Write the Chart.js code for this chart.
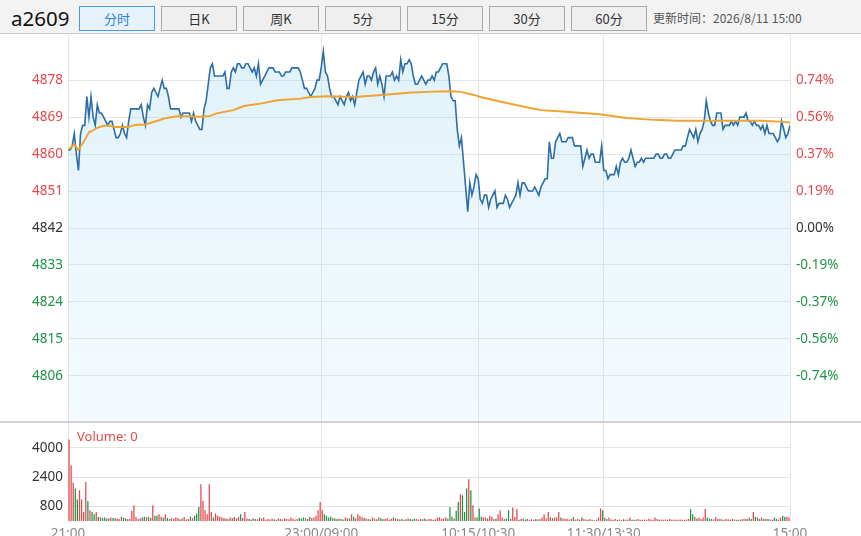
<!DOCTYPE html>
<html><head><meta charset="utf-8">
<script src="https://cdn.jsdelivr.net/npm/chart.js@4.4.1/dist/chart.umd.min.js"></script>
<style>
html,body{margin:0;padding:0;width:861px;height:536px;overflow:hidden;background:#fff;font-family:'Noto Sans','Noto Sans CJK SC',sans-serif;}
#bar{position:absolute;left:0;top:0;width:861px;height:33px;background:#f3f3f3;border-bottom:1px solid #c9c9c9;}
#sym{position:absolute;left:11px;top:4px;font-size:20.5px;line-height:28px;color:#111;}
.btn{position:absolute;top:6px;height:23px;width:74px;border:1px solid #a9a9a9;background:#efefef;font-size:13px;line-height:23px;text-align:center;color:#333;font-family:'Noto Sans CJK SC','Noto Sans',sans-serif;}
.btn.on{background:#e6f2fc;border-color:#4b9be0;color:#2b7fd4}
#upd{position:absolute;left:653px;top:9px;font-size:12px;line-height:17px;color:#555;font-family:'Noto Sans CJK SC','Noto Sans',sans-serif;}
#sep{position:absolute;left:0;top:421px;width:861px;height:2px;background:#d2d2d2}
#vol{position:absolute;left:77px;top:428px;font-size:13px;line-height:16px;color:#e5484d}
canvas{position:absolute;left:0}
</style></head>
<body>
<div id="bar">
  <div id="sym">a2609</div>
  <div class="btn on" style="left:79px">分时</div>
  <div class="btn" style="left:161px">日K</div>
  <div class="btn" style="left:243px">周K</div>
  <div class="btn" style="left:325px">5分</div>
  <div class="btn" style="left:407px">15分</div>
  <div class="btn" style="left:489px">30分</div>
  <div class="btn" style="left:571px">60分</div>
  <div id="upd">更新时间：2026/8/11 15:00</div>
</div>
<canvas id="pc" width="861" height="386" style="top:35px"></canvas>
<canvas id="vc" width="861" height="130" style="top:422px"></canvas>
<div id="sep"></div>
<div id="vol">Volume: 0</div>
<script>
const basePrice = 4842;
const priceMin = 4795;
const priceMax = 4889;
const priceTicks = [4806, 4815, 4824, 4833, 4842, 4851, 4860, 4869, 4878];
const volumeMax = 5400;
const volumeTicks = [800, 2400, 4000];
const sessionTicks = [0, 121, 196, 256, 345];
const sessionLabels = ['21:00', '23:00/09:00', '10:15/10:30', '11:30/13:30', '15:00'];

const priceValues = [
  4861,4861,4862,4865,4860,4856,4865,4867,4867,4874,4869,4874,4869,4867,4872,
  4870,4870,4869,4868,4867,4868,4868,4866,4864,4864,4865,4867,4865,4864,4868,
  4871,4871,4871,4871,4871,4872,4869,4867,4872,4871,4875,4876,4875,4874,4876,
  4878,4876,4876,4874,4871,4871,4871,4871,4871,4869,4870,4870,4870,4870,4868,
  4870,4868,4867,4866,4866,4871,4873,4877,4881,4882,4879,4879,4879,4879,4879,
  4880,4876,4876,4880,4881,4880,4882,4882,4881,4881,4882,4882,4881,4880,4881,
  4879,4882,4877,4878,4879,4880,4881,4881,4881,4880,4880,4880,4879,4879,4880,
  4880,4880,4881,4881,4881,4881,4880,4878,4876,4876,4875,4874,4875,4876,4878,
  4878,4881,4885,4880,4879,4876,4874,4874,4873,4872,4874,4873,4872,4874,4875,
  4873,4874,4872,4875,4878,4879,4880,4877,4879,4879,4878,4880,4881,4877,4879,
  4877,4874,4879,4879,4879,4880,4878,4879,4878,4883,4880,4882,4882,4883,4882,
  4879,4877,4877,4878,4879,4878,4877,4878,4878,4879,4878,4880,4880,4881,4882,
  4882,4882,4879,4874,4873,4873,4866,4862,4864,4858,4852,4846,4853,4850,4852,
  4855,4854,4849,4848,4850,4850,4847,4849,4850,4851,4847,4848,4848,4848,4850,
  4849,4847,4848,4849,4850,4853,4850,4853,4853,4852,4851,4851,4851,4852,4851,
  4850,4852,4853,4854,4854,4863,4859,4859,4863,4864,4865,4863,4863,4863,4864,
  4864,4864,4862,4862,4862,4862,4857,4859,4861,4859,4860,4860,4858,4858,4858,
  4862,4856,4856,4854,4855,4855,4855,4857,4855,4858,4859,4858,4858,4859,4861,
  4859,4857,4858,4858,4859,4858,4859,4859,4859,4859,4859,4860,4860,4859,4859,
  4860,4860,4859,4859,4860,4861,4861,4861,4861,4862,4862,4864,4866,4865,4864,
  4866,4863,4865,4866,4868,4873,4870,4868,4867,4867,4870,4870,4870,4866,4867,
  4867,4867,4868,4867,4868,4867,4869,4869,4869,4870,4868,4868,4867,4868,4867,
  4867,4866,4867,4865,4867,4865,4865,4865,4864,4863,4864,4868,4866,4864,4865,
  4867
];

const avgMinutes = [0,3,5,8,10,12,14,17,20,23,26,29,32,37,42,47,52,56,63,68,71,79,84,92,100,111,116,124,137,153,164,175,182,187,194,197,209,222,226,238,254,267,278,283,291,307,331,340,345];
const avgValues = [4861.0,4862.4,4861.0,4863.4,4865.3,4865.8,4866.4,4866.9,4866.9,4866.6,4866.6,4866.6,4867.1,4867.2,4868.0,4868.8,4869.2,4869.2,4869.1,4869.3,4869.9,4870.7,4871.7,4872.3,4873.1,4873.5,4873.9,4874.1,4873.9,4874.5,4875.0,4875.2,4875.3,4875.2,4874.4,4873.9,4872.5,4871.1,4870.7,4870.3,4869.7,4868.8,4868.4,4868.3,4868.1,4868.1,4868.1,4867.9,4867.7];

const volumeValues = [
  4450,3050,2090,1780,1180,1690,1180,510,2140,1100,600,510,380,500,240,
  220,180,200,150,160,200,180,170,150,130,250,190,160,120,140,
  580,870,250,120,150,200,250,220,250,180,870,300,320,380,250,
  200,380,180,120,160,140,200,180,110,150,240,100,130,250,180,
  300,420,780,2020,1100,600,380,2020,510,200,420,300,250,200,180,
  150,120,200,180,230,160,250,380,180,500,150,120,100,160,130,
  110,200,150,200,90,120,100,140,110,90,150,120,100,160,130,
  110,200,140,100,120,180,150,200,160,120,240,180,200,300,600,
  1050,600,380,300,200,250,180,160,130,150,120,100,200,170,150,
  380,250,150,380,300,220,180,150,120,100,200,140,110,220,160,
  130,120,180,100,140,200,160,120,100,130,90,110,150,120,100,
  140,120,90,130,110,150,100,120,130,90,110,200,220,120,150,
  220,140,780,250,150,580,1050,1470,1420,510,1780,2290,1690,870,220,
  200,690,250,200,200,150,300,240,120,140,380,600,200,120,150,
  600,130,750,240,650,90,120,150,100,130,90,110,80,120,100,
  120,200,380,150,510,220,180,200,200,510,200,150,145,120,100,
  130,235,100,120,90,200,145,100,80,120,90,55,100,200,690,
  600,200,130,200,100,90,120,80,100,90,110,80,100,200,90,
  80,100,120,90,80,100,90,145,100,80,200,120,90,100,90,
  100,80,120,90,100,80,90,100,90,90,100,120,650,380,235,
  150,200,120,200,670,200,145,120,100,235,120,145,100,90,120,
  100,90,120,100,90,80,100,120,145,120,200,130,510,235,200,
  120,200,130,145,120,100,90,200,120,100,200,300,235,250,200
];

const RED = '#e5484d', GREEN = '#1f9447', GRID = '#e4e4e4';
Chart.defaults.font.family = "'Noto Sans','Noto Sans CJK SC',sans-serif";
Chart.defaults.font.size = 13.5;

function fixV(w) { return s => { s.width = w; s.paddingTop = 0; s.paddingBottom = 0; }; }
function fixH(h) { return s => { s.height = h; s.paddingLeft = 0; s.paddingRight = 0; }; }
function setTicks(arr) { return s => { s.ticks = arr.map(v => ({ value: v })); }; }
function tickColor(c) { const v = c.tick.value; return v > basePrice ? RED : (v < basePrice ? GREEN : '#333'); }

new Chart(document.getElementById('pc'), {
  type: 'line',
  data: { datasets: [
    { data: avgMinutes.map((m, k) => ({ x: m, y: avgValues[k] })), borderColor: '#f0a331', borderWidth: 1.9, pointRadius: 0, fill: false, order: 0 },
    { data: priceValues.map((v, i) => ({ x: i, y: v })), borderColor: '#2c6ea5', borderWidth: 1.6, pointRadius: 0, fill: 'start', order: 1,
      backgroundColor: (c) => {
        const { ctx, chartArea } = c.chart;
        if (!chartArea) return 'rgba(170,220,245,0.25)';
        const g = ctx.createLinearGradient(0, chartArea.top, 0, chartArea.bottom);
        g.addColorStop(0, 'rgba(160,215,240,0.34)');
        g.addColorStop(1, 'rgba(190,230,248,0.16)');
        return g;
      } }
  ] },
  options: {
    animation: false, responsive: false, maintainAspectRatio: false,
    layout: { padding: 0 },
    plugins: { legend: { display: false }, tooltip: { enabled: false } },
    scales: {
      x: { type: 'linear', min: 0, max: 345, afterBuildTicks: setTicks(sessionTicks),
           ticks: { display: false }, grid: { color: GRID, drawTicks: false }, border: { display: false }, afterFit: fixH(0) },
      y: { type: 'linear', position: 'left', min: priceMin, max: priceMax, afterBuildTicks: setTicks(priceTicks),
           ticks: { color: tickColor, padding: 5, callback: v => String(v) },
           grid: { color: GRID, drawTicks: false }, border: { display: false }, afterFit: fixV(68) },
      y2: { type: 'linear', position: 'right', min: priceMin, max: priceMax, afterBuildTicks: setTicks(priceTicks),
           ticks: { color: tickColor, padding: 6, callback: v => ((v - basePrice) / basePrice * 100).toFixed(2) + '%' },
           grid: { display: false, drawTicks: false }, border: { display: false }, afterFit: fixV(71) }
    }
  }
});

new Chart(document.getElementById('vc'), {
  type: 'bar',
  data: { datasets: [{
    data: volumeValues.map((v, k) => ({ x: k + 0.5, y: v })),
    backgroundColor: volumeValues.map((v, k) => priceValues[k + 1] >= priceValues[k] ? RED : GREEN),
    barPercentage: 0.6, categoryPercentage: 1, borderWidth: 0
  }] },
  options: {
    animation: false, responsive: false, maintainAspectRatio: false,
    layout: { padding: { right: 71 } },
    plugins: { legend: { display: false }, tooltip: { enabled: false } },
    scales: {
      x: { type: 'linear', min: 0, max: 345, offset: false, afterBuildTicks: setTicks(sessionTicks),
           ticks: { color: '#8a8a8a', autoSkip: false, maxRotation: 0, padding: 5, callback: (v, i) => sessionLabels[i] },
           grid: { color: GRID, drawTicks: false, offset: false }, border: { display: false }, afterFit: fixH(30.7) },
      y: { type: 'linear', position: 'left', min: 0, max: volumeMax, afterBuildTicks: setTicks(volumeTicks),
           ticks: { color: '#333', padding: 5, callback: v => String(v) },
           grid: { color: GRID, drawTicks: false }, border: { display: false }, afterFit: fixV(68) }
    }
  }
});
</script>
</body></html>
